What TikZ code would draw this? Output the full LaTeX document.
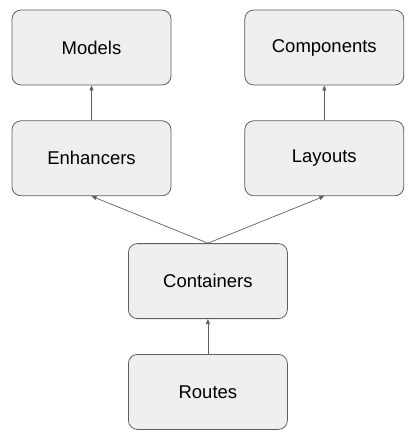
\documentclass[tikz,border=0pt]{standalone}
\usepackage{fontspec}
\setmainfont{Liberation Sans}
\usetikzlibrary{positioning,arrows.meta,calc}

\definecolor{boxfill}{HTML}{EFEFEF}
\definecolor{boxline}{HTML}{5F5F5F}

\tikzset{
  layer/.style={draw=boxline, fill=boxfill, line width=0.8pt, rounded corners=9pt,
    minimum width=159pt, minimum height=75pt, inner sep=0pt,
    font=\fontsize{18.5}{22}\selectfont},
  dep/.style={draw=boxline, line width=0.7pt, -{Triangle[length=5pt,width=4pt]}}
}

\begin{document}
\begin{tikzpicture}
  \useasboundingbox (0,0) rectangle (415pt,-438pt);
  \node[layer] (models) at (91.5pt,-47.5pt) {Models};
  \node[layer, right=73pt of models] (components) {Components};
  \node[layer, below=35pt of models] (enhancers) {Enhancers};
  \node[layer, below=35pt of components] (layouts) {Layouts};
  \coordinate (mid) at ($(enhancers.south)!0.5!(layouts.south)$);
  \node[layer, below=47pt of mid] (containers) {Containers};
  \node[layer, below=35pt of containers] (routes) {Routes};
  \draw[dep] (enhancers) -- (models);
  \draw[dep] (layouts) -- (components);
  \draw[dep] (containers.north) -- (enhancers.south);
  \draw[dep] (containers.north) -- (layouts.south);
  \draw[dep] (routes) -- (containers);
\end{tikzpicture}
\end{document}
